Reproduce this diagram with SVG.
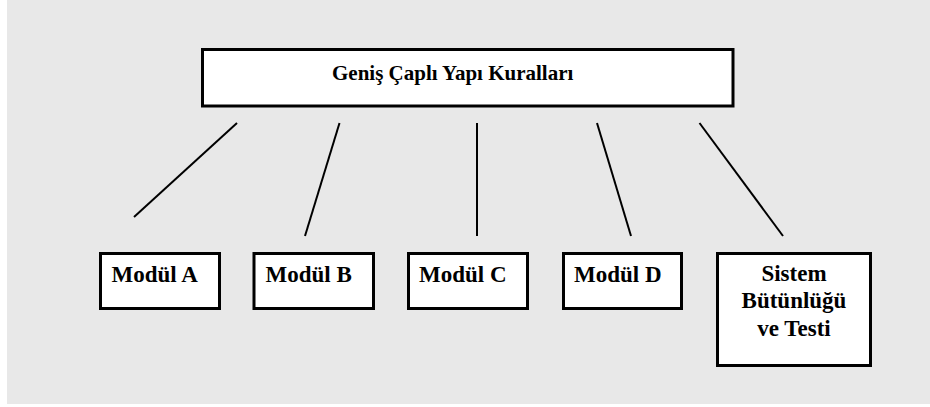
<svg xmlns="http://www.w3.org/2000/svg" width="930" height="407" viewBox="0 0 930 407">
  <style>
    .box { fill: #ffffff; stroke: #000000; stroke-width: 3; }
    .lbl { font-family: "Liberation Serif", "Times New Roman", serif; font-weight: bold; font-size: 23px; fill: #000000; }
    .title { font-size: 21px; }
    .mid { text-anchor: middle; }
    .link { stroke: #000000; stroke-width: 2; fill: none; }
  </style>

  <!-- panel background -->
  <rect x="0" y="0" width="930" height="407" fill="#ffffff"/>
  <rect x="7" y="0" width="923" height="404" fill="#e8e8e8"/>

  <!-- root node -->
  <g id="root">
    <rect class="box" x="202.5" y="49.5" width="530.5" height="56.5"/>
    <text class="lbl title" x="332" y="80">Geniş Çaplı Yapı Kuralları</text>
  </g>

  <!-- connectors from the root to each module -->
  <g id="connectors">
    <line class="link" x1="237" y1="123" x2="134" y2="217"/>
    <line class="link" x1="339.5" y1="123" x2="305" y2="236"/>
    <line class="link" x1="477" y1="123" x2="477" y2="236"/>
    <line class="link" x1="597" y1="123" x2="631" y2="236"/>
    <line class="link" x1="699.5" y1="123" x2="783" y2="236"/>
  </g>

  <g id="modul-a">
    <rect class="box" x="100.5" y="253.5" width="119" height="55"/>
    <text class="lbl" x="111.5" y="282">Modül A</text>
  </g>

  <g id="modul-b">
    <rect class="box" x="254" y="253.5" width="119.5" height="55"/>
    <text class="lbl" x="265.5" y="282">Modül B</text>
  </g>

  <g id="modul-c">
    <rect class="box" x="408.5" y="253.5" width="119" height="55"/>
    <text class="lbl" x="419" y="282">Modül C</text>
  </g>

  <g id="modul-d">
    <rect class="box" x="563.5" y="253.5" width="118" height="55"/>
    <text class="lbl" x="574" y="282">Modül D</text>
  </g>

  <g id="sistem">
    <rect class="box" x="717.5" y="253.5" width="153" height="112"/>
    <text class="lbl mid" x="794" y="281">Sistem</text>
    <text class="lbl mid" x="794" y="308">Bütünlüğü</text>
    <text class="lbl mid" x="794" y="335.5">ve Testi</text>
  </g>
</svg>
